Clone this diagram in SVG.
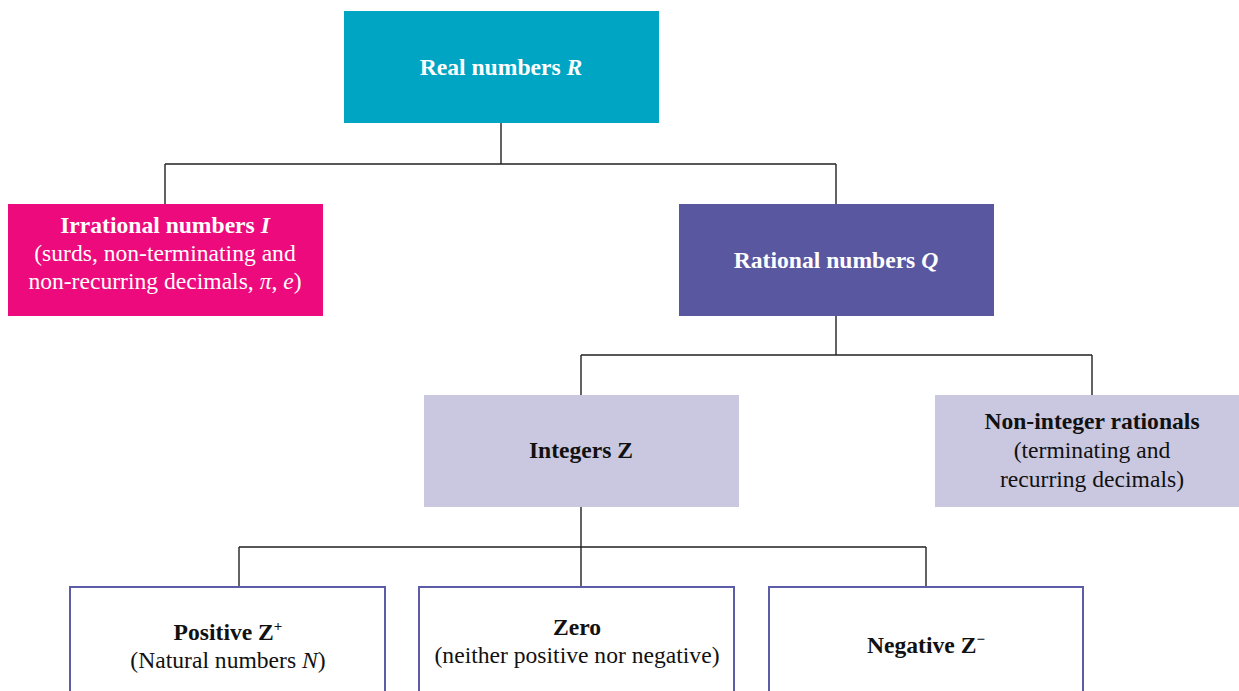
<svg xmlns="http://www.w3.org/2000/svg" width="1239" height="691" viewBox="0 0 1239 691">
<style>
text{font-family:"Liberation Serif","Times New Roman",serif;font-size:23.6px;text-anchor:middle}
.b{font-weight:bold}
.i{font-style:italic}
.w{fill:#ffffff}
.k{fill:#111111}
.lav{fill:#cac8e0}
.out{fill:#ffffff;stroke:#5d5ca6;stroke-width:2}
.con{fill:none;stroke:#222222;stroke-width:1.4}
</style>
<rect width="1239" height="691" fill="#ffffff"/>
<g id="connectors">
<path class="con" d="M501 123V164M165 164H836M165 164V204M836 164V204"/>
<path class="con" d="M836 316V355M581 355H1092M581 355V395M1092 355V395"/>
<path class="con" d="M581 507V547M239 547H926M239 547V587M581 547V587M926 547V587"/>
</g>
<g id="real">
<rect x="344" y="11" width="315" height="112" fill="#00a5c3"/>
<text class="b w" x="501" y="75">Real numbers <tspan class="i">R</tspan></text>
</g>
<g id="irrational">
<rect x="8" y="204" width="315" height="112" fill="#ec0a7c"/>
<text class="b w" x="165" y="233">Irrational numbers <tspan class="i">I</tspan></text>
<text class="w" x="165" y="261">(surds, non-terminating and</text>
<text class="w" x="165" y="289">non-recurring decimals, <tspan class="i">π</tspan>, <tspan class="i">e</tspan>)</text>
</g>
<g id="rational">
<rect x="679" y="204" width="315" height="112" fill="#5a57a1"/>
<text class="b w" x="836" y="268">Rational numbers <tspan class="i">Q</tspan></text>
</g>
<g id="integers">
<rect class="lav" x="424" y="395" width="315" height="112"/>
<text class="b k" x="581" y="458">Integers Z</text>
</g>
<g id="noninteger">
<rect class="lav" x="935" y="395" width="304" height="112"/>
<text class="b k" x="1092" y="429">Non-integer rationals</text>
<text class="k" x="1092" y="458">(terminating and</text>
<text class="k" x="1092" y="487">recurring decimals)</text>
</g>
<g id="positive">
<rect class="out" x="70" y="587" width="315" height="120"/>
<text class="b k" x="228" y="640">Positive Z<tspan font-size="15" dy="-9">+</tspan></text>
<text class="k" x="228" y="668">(Natural numbers <tspan class="i">N</tspan>)</text>
</g>
<g id="zero">
<rect class="out" x="419" y="587" width="315" height="120"/>
<text class="b k" x="577" y="635">Zero</text>
<text class="k" x="577" y="663">(neither positive nor negative)</text>
</g>
<g id="negative">
<rect class="out" x="769" y="587" width="314" height="120"/>
<text class="b k" x="926" y="653">Negative Z<tspan font-size="15" dy="-9">−</tspan></text>
</g>
</svg>
